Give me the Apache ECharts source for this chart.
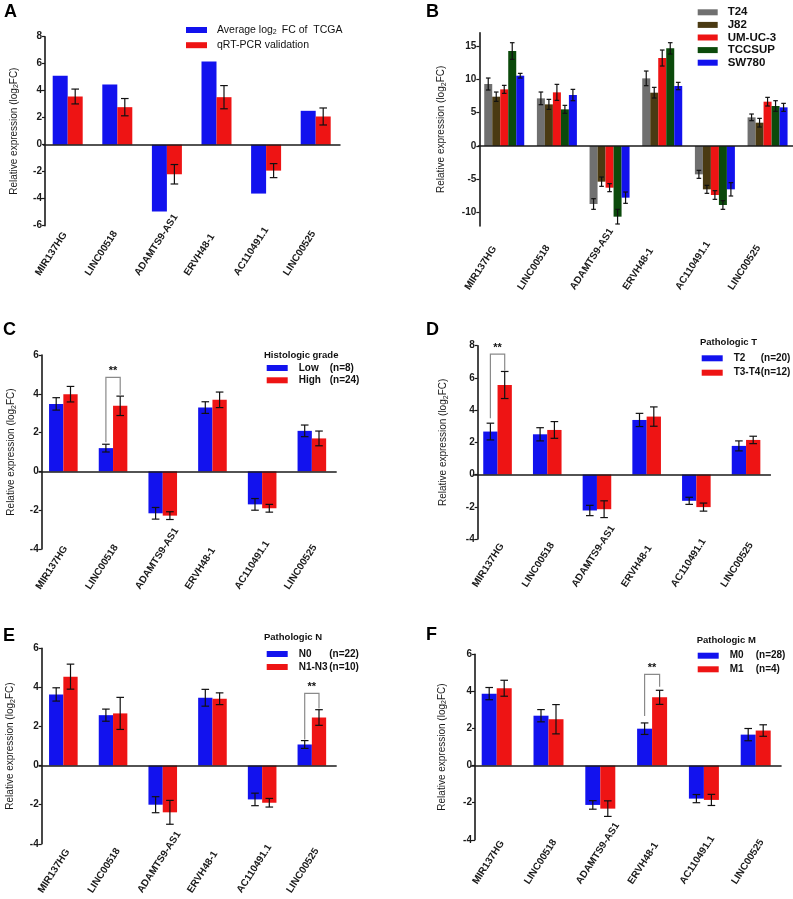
<!DOCTYPE html>
<html>
<head>
<meta charset="utf-8">
<script src="https://cdn.jsdelivr.net/npm/echarts@6/dist/echarts.min.js"></script>
<style>
  html, body { margin: 0; padding: 0; background: #fff; }
  #chart { width: 793px; height: 899px; }
</style>
</head>
<body>
<div id="chart"></div>
<script>
// categories shared by all six panels
const genes = ['MIR137HG', 'LINC00518', 'ADAMTS9-AS1', 'ERVH48-1', 'AC110491.1', 'LINC00525'];

// A: TCGA vs qRT-PCR
const tcgaMean = [5.1, 4.46, -4.95, 6.16, -3.62, 2.51];
const qpcrMean = [3.57, 2.78, -2.19, 3.52, -1.92, 2.09];
const qpcrErr = [0.55, 0.64, 0.72, 0.86, 0.52, 0.63];

// B: cell lines
const t24Mean = [9.3, 7.15, -8.7, 10.15, -4.25, 4.3];
const t24Err = [0.9, 0.95, 0.8, 1.1, 0.6, 0.5];
const j82Mean = [7.4, 6.25, -5.35, 8.0, -6.5, 3.5];
const j82Err = [0.7, 0.75, 0.7, 0.8, 0.6, 0.65];
const umucMean = [8.5, 8.05, -6.25, 13.2, -7.35, 6.65];
const umucErr = [0.6, 1.2, 0.6, 1.2, 0.65, 0.65];
const tccsupMean = [14.25, 5.5, -10.6, 14.65, -8.85, 6.0];
const tccsupErr = [1.25, 0.6, 1.1, 0.85, 0.65, 0.8];
const sw780Mean = [10.55, 7.65, -7.75, 9.0, -6.5, 5.8];
const sw780Err = [0.35, 0.85, 0.85, 0.55, 1.0, 0.6];
const bTicks = [-10, -5, 0, 5, 10, 15];

// C: histologic grade
const lowMean = [3.48, 1.2, -2.16, 3.29, -1.7, 2.09];
const lowErr = [0.32, 0.2, 0.3, 0.3, 0.3, 0.3];
const highMean = [3.98, 3.38, -2.28, 3.69, -1.9, 1.7];
const highErr = [0.4, 0.5, 0.2, 0.4, 0.2, 0.38];
const gradeN = ['(n=8)', '(n=24)'];

// D: pathologic T
const t2Mean = [2.67, 2.5, -2.23, 3.39, -1.63, 1.78];
const t2Err = [0.52, 0.41, 0.32, 0.41, 0.22, 0.31];
const t34Mean = [5.56, 2.77, -2.15, 3.6, -2.02, 2.15];
const t34Err = [0.84, 0.52, 0.52, 0.6, 0.25, 0.23];
const tN = ['(n=20)', '(n=12)'];

// E: pathologic N
const n0Mean = [3.64, 2.58, -2.0, 3.47, -1.73, 1.08];
const n0Err = [0.34, 0.31, 0.41, 0.43, 0.32, 0.2];
const n13Mean = [4.55, 2.67, -2.39, 3.42, -1.9, 2.46];
const n13Err = [0.64, 0.82, 0.61, 0.3, 0.22, 0.4];
const nN = ['(n=22)', '(n=10)'];

// F: pathologic M
const m0Mean = [3.88, 2.69, -2.12, 1.99, -1.78, 1.67];
const m0Err = [0.33, 0.33, 0.23, 0.31, 0.22, 0.33];
const m1Mean = [4.17, 2.5, -2.32, 3.68, -1.85, 1.89];
const m1Err = [0.43, 0.79, 0.42, 0.38, 0.3, 0.31];
const mN = ['(n=28)', '(n=4)'];

// significance brackets: [category index, top, left leg end, right leg end]
const sigC = [1, 4.85, 1.5, 3.95];
const sigD = [0, 7.48, 3.5, 6.45];
const sigE = [5, 3.69, 1.33, 2.92];
const sigF = [3, 4.92, 2.68, 4.25];

const BLUE = '#1212ee';
const RED = '#ee1414';
const FONT = '"Liberation Sans", Arial, Helvetica, sans-serif';

const panels = [
  {
    letter: 'A', letterPos: [4, 3],
    grid: { left: 42.9, top: 36.7, width: 297.6, height: 189 }, axisX: 45,
    min: -6, max: 8, interval: 2, barW: 15, cap: 3.8, labelBox: 55, labelMargin: 3, nameGap: 25,
    series: [
      { name: 'Average log2FC of TCGA', color: BLUE, values: tcgaMean },
      { name: 'qRT-PCR validation', color: RED, values: qpcrMean, errors: qpcrErr }
    ],
    legend: { left: 186, top: 24, itemGap: 3.7, itemWidth: 21, pad: 5, size: 10.5 }
  },
  {
    letter: 'B', letterPos: [426, 3],
    grid: { left: 477.9, top: 32.7, width: 316, height: 193.3 }, axisX: 479.3,
    min: -12, max: 17, custom: bTicks, barW: 8, cap: 2.3, labelBox: 68, labelMargin: 6, nameGap: 32,
    series: [
      { name: 'T24', color: '#707070', values: t24Mean, errors: t24Err },
      { name: 'J82', color: '#4a3a12', values: j82Mean, errors: j82Err },
      { name: 'UM-UC-3', color: RED, values: umucMean, errors: umucErr },
      { name: 'TCCSUP', color: '#0b4a0b', values: tccsupMean, errors: tccsupErr },
      { name: 'SW780', color: BLUE, values: sw780Mean, errors: sw780Err }
    ],
    legend: { left: 697.7, top: 6.3, itemGap: 0.6, itemWidth: 20, pad: 5, bold: true, size: 11.5 }
  },
  {
    letter: 'C', letterPos: [3, 321],
    grid: { left: 38.5, top: 355, width: 298.2, height: 194 }, axisX: 41.7,
    min: -4, max: 6, interval: 2, barW: 14.3, cap: 3.8, labelBox: 46, labelMargin: 1, nameGap: 24,
    series: [
      { name: 'Low', color: BLUE, values: lowMean, errors: lowErr },
      { name: 'High', color: RED, values: highMean, errors: highErr }
    ],
    counts: gradeN, sig: sigC, legendTitle: ['Histologic grade', 264, 350.5],
    legend: { left: 266.7, top: 363, itemGap: 2.3, itemWidth: 21, pad: 6, colW: 31 }
  },
  {
    letter: 'D', letterPos: [426, 321],
    grid: { left: 472.7, top: 345.7, width: 298.2, height: 193.3 }, axisX: 477.7,
    min: -4, max: 8, interval: 2, barW: 14.3, cap: 3.8, labelBox: 42, labelMargin: 12, nameGap: 28,
    series: [
      { name: 'T2', color: BLUE, values: t2Mean, errors: t2Err },
      { name: 'T3-T4', color: RED, values: t34Mean, errors: t34Err }
    ],
    counts: tN, sig: sigD, legendTitle: ['Pathologic T', 700, 337.5],
    legend: { left: 701.7, top: 353.3, itemGap: 4.4, itemWidth: 21, pad: 6, colW: 27 }
  },
  {
    letter: 'E', letterPos: [3, 627],
    grid: { left: 38.5, top: 648.3, width: 298.2, height: 195.5 }, axisX: 41.7,
    min: -4, max: 6, interval: 2, barW: 14.3, cap: 3.8, labelBox: 42, labelMargin: 13, nameGap: 25,
    series: [
      { name: 'N0', color: BLUE, values: n0Mean, errors: n0Err },
      { name: 'N1-N3', color: RED, values: n13Mean, errors: n13Err }
    ],
    counts: nN, sig: sigE, legendTitle: ['Pathologic N', 264, 632.5],
    legend: { left: 266.7, top: 649, itemGap: 3, itemWidth: 21, pad: 6, colW: 30.5 }
  },
  {
    letter: 'F', letterPos: [426, 626],
    grid: { left: 470.8, top: 654.3, width: 310.8, height: 185.5 }, axisX: 475,
    min: -4, max: 6, interval: 2, barW: 15, cap: 3.8, labelBox: 40, labelMargin: 10, nameGap: 27,
    series: [
      { name: 'M0', color: BLUE, values: m0Mean, errors: m0Err },
      { name: 'M1', color: RED, values: m1Mean, errors: m1Err }
    ],
    counts: mN, sig: sigF, legendTitle: ['Pathologic M', 696.7, 635.5],
    legend: { left: 697.7, top: 650.7, itemGap: 3.6, itemWidth: 21, pad: 6, colW: 26 }
  }
];

const errorBars = (offset, cap) => (params, api) => {
  const i = api.value(0), v = api.value(1), e = api.value(2);
  const x = api.coord([i, v])[0] + offset;
  const yHi = api.coord([i, v + e])[1];
  const yLo = api.coord([i, v - e])[1];
  const style = { stroke: '#111', lineWidth: 1.2 };
  return {
    type: 'group',
    children: [
      { type: 'line', shape: { x1: x, y1: yHi, x2: x, y2: yLo }, style },
      { type: 'line', shape: { x1: x - cap, y1: yHi, x2: x + cap, y2: yHi }, style },
      { type: 'line', shape: { x1: x - cap, y1: yLo, x2: x + cap, y2: yLo }, style }
    ]
  };
};

const bracket = (barW) => (params, api) => {
  const i = api.value(0);
  const top = api.coord([i, api.value(1)]);
  const lx = top[0] - barW / 2, rx = top[0] + barW / 2;
  const yl = api.coord([i, api.value(2)])[1];
  const yr = api.coord([i, api.value(3)])[1];
  return {
    type: 'group',
    children: [
      { type: 'polyline', shape: { points: [[lx, yl], [lx, top[1]], [rx, top[1]], [rx, yr]] },
        style: { stroke: '#8a8a8a', lineWidth: 1.2, fill: null } },
      { type: 'text', x: top[0], y: top[1] - 1,
        style: { text: '**', textAlign: 'center', textVerticalAlign: 'bottom',
                 font: 'bold 11px ' + FONT, fill: '#111' } }
    ]
  };
};

const option = {
  animation: false,
  backgroundColor: '#fff',
  textStyle: { fontFamily: FONT },
  grid: [], xAxis: [], yAxis: [], series: [], legend: [], title: []
};

panels.forEach((p, gi) => {
  option.grid.push(Object.assign({ outerBoundsMode: 'none', containLabel: false }, p.grid));
  option.xAxis.push({
    type: 'category', gridIndex: gi, data: genes, position: 'bottom',
    axisLine: { show: false, onZero: false }, axisTick: { show: false },
    axisLabel: {
      interval: 0, rotate: 57, margin: p.labelMargin,
      formatter: (v) => '{l|' + v + '}',
      rich: { l: { width: p.labelBox, align: 'left', fontSize: 10, fontWeight: 'bold',
                   color: '#1a1a1a', fontFamily: FONT } }
    }
  });
  const y = {
    type: 'value', gridIndex: gi, min: p.min, max: p.max,
    offset: p.grid.left - p.axisX,
    splitLine: { show: false },
    axisLine: { show: true, lineStyle: { color: '#1a1a1a', width: 1.6 } },
    axisTick: { show: true, length: 3, lineStyle: { color: '#1a1a1a', width: 1.2 } },
    axisLabel: { fontSize: 10, fontWeight: 'bold', color: '#1a1a1a', margin: 3, fontFamily: FONT },
    name: '{t|Relative expression (log}{s|2}{t|FC)}',
    nameLocation: 'middle', nameGap: p.nameGap, nameRotate: 90,
    nameTextStyle: {
      rich: {
        t: { fontSize: 10, color: '#1a1a1a', fontFamily: FONT },
        s: { fontSize: 7, color: '#1a1a1a', fontFamily: FONT, padding: [5, 0, 0, 0] }
      }
    }
  };
  if (p.custom) {
    y.axisLabel.customValues = p.custom;
    y.axisTick.customValues = p.custom;
  } else {
    y.interval = p.interval;
  }
  option.yAxis.push(y);

  const n = p.series.length;
  p.series.forEach((s, k) => {
    const bar = {
      type: 'bar', name: s.name, xAxisIndex: gi, yAxisIndex: gi,
      data: s.values, barWidth: p.barW, barGap: '0%',
      itemStyle: { color: s.color }, silent: true
    };
    if (k === 0) {
      bar.markLine = {
        silent: true, symbol: ['none', 'none'], label: { show: false },
        lineStyle: { color: '#1a1a1a', width: 1.6, type: 'solid' },
        data: [{ yAxis: 0 }]
      };
    }
    option.series.push(bar);
    if (s.errors) {
      option.series.push({
        type: 'custom', xAxisIndex: gi, yAxisIndex: gi, silent: true, z: 5,
        renderItem: errorBars((k - (n - 1) / 2) * p.barW, p.cap),
        encode: { x: 0, y: 1 },
        data: s.values.map((v, i) => [i, v, s.errors[i]])
      });
    }
  });

  if (p.sig) {
    option.series.push({
      type: 'custom', xAxisIndex: gi, yAxisIndex: gi, silent: true, z: 6,
      renderItem: bracket(p.barW), encode: { x: 0, y: 1 },
      data: [p.sig]
    });
  }

  const L = p.legend;
  const names = p.series.map(s => s.name);
  const base = { color: '#111', fontFamily: FONT, lineHeight: 12 };
  const rich = {
    t: Object.assign({ fontSize: L.size || 10.5, fontWeight: L.bold ? 'bold' : 'normal', padding: [0, 0, 0, L.pad] }, base),
    s: Object.assign({ fontSize: 7, padding: [5, 0, 0, 0] }, base),
    a: Object.assign({ fontSize: 10, fontWeight: 'bold', padding: [0, 0, 0, L.pad], width: L.colW || 0 }, base),
    b: Object.assign({ fontSize: 10, fontWeight: 'bold' }, base)
  };
  option.legend.push({
    data: names, orient: 'vertical', left: L.left, top: L.top,
    itemGap: L.itemGap, itemWidth: L.itemWidth, itemHeight: 6, icon: 'rect',
    selectedMode: false, padding: 0,
    textStyle: { rich },
    formatter: (name) => {
      if (p.counts) return '{a|' + name + '}{b|' + p.counts[names.indexOf(name)] + '}';
      if (name === 'Average log2FC of TCGA') return '{t|Average log}{s|2}{t|FC of  TCGA}';
      return '{t|' + name + '}';
    }
  });

  option.title.push({
    text: p.letter, left: p.letterPos[0], top: p.letterPos[1], padding: 0,
    textStyle: { fontSize: 18, fontWeight: 'bold', color: '#000', fontFamily: FONT }
  });
  if (p.legendTitle) {
    option.title.push({
      text: p.legendTitle[0], left: p.legendTitle[1], top: p.legendTitle[2], padding: 0,
      textStyle: { fontSize: 9.5, fontWeight: 'bold', color: '#111', fontFamily: FONT }
    });
  }
});

const chart = echarts.init(document.getElementById('chart'), null, { renderer: 'canvas' });
chart.setOption(option);
</script>
</body>
</html>
